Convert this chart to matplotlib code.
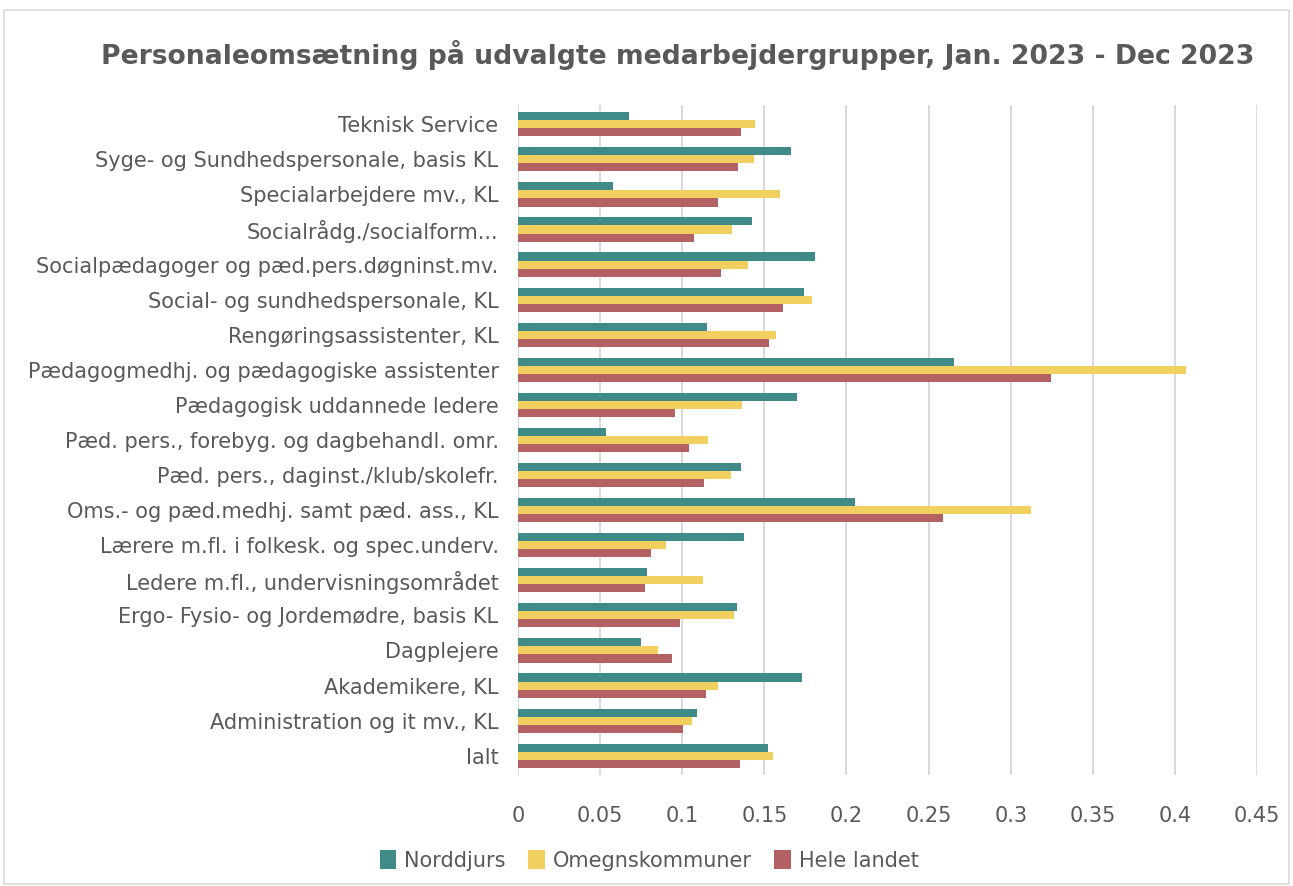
import matplotlib.pyplot as plt
import numpy as np
from matplotlib.patches import Rectangle

# Data (bottom to top as shown)
categories = ['Ialt', 'Administration og it mv., KL', 'Akademikere, KL', 'Dagplejere',
              'Ergo- Fysio- og Jordemødre, basis KL', 'Ledere m.fl., undervisningsområdet',
              'Lærere m.fl. i folkesk. og spec.underv.', 'Oms.- og pæd.medhj. samt pæd. ass., KL',
              'Pæd. pers., daginst./klub/skolefr.', 'Pæd. pers., forebyg. og dagbehandl. omr.',
              'Pædagogisk uddannede ledere', 'Pædagogmedhj. og pædagogiske assistenter',
              'Rengøringsassistenter, KL', 'Social- og sundhedspersonale, KL',
              'Socialpædagoger og pæd.pers.døgninst.mv.', 'Socialrådg./socialform...',
              'Specialarbejdere mv., KL', 'Syge- og Sundhedspersonale, basis KL',
              'Teknisk Service']
norddjurs = [0.152, 0.1087, 0.1728, 0.0752, 0.1331, 0.0783, 0.1374, 0.2049, 0.1355, 0.0536,
             0.1701, 0.2653, 0.1148, 0.1740, 0.1807, 0.1423, 0.0581, 0.1661, 0.0673]
omegn = [0.1551, 0.1057, 0.1215, 0.0850, 0.1313, 0.1124, 0.0904, 0.3121, 0.1298, 0.1159,
         0.1366, 0.4065, 0.1569, 0.1789, 0.1398, 0.1301, 0.1593, 0.1435, 0.1441]
hele = [0.1350, 0.1002, 0.1142, 0.0935, 0.0984, 0.0776, 0.0807, 0.2585, 0.1135, 0.1042,
        0.0958, 0.3244, 0.1526, 0.1612, 0.1234, 0.1069, 0.1215, 0.1337, 0.1356]
series = ['Norddjurs', 'Omegnskommuner', 'Hele landet']
colors = ['#408B87', '#F2D060', '#B36163']

plt.rcParams['font.family'] = ['DejaVu Sans']
txt = '#595959'

fig = plt.figure(figsize=(12.93, 8.86), dpi=100)
fig.patches.append(Rectangle((0.003, 0.002), 0.994, 0.987, transform=fig.transFigure,
                             fill=False, edgecolor='#D9D9D9', linewidth=1.2))
ax = fig.add_axes([0.4006, 0.1253, 0.5716, 0.7562])

y = np.arange(len(categories))
h = 0.23
for vals, off, c, lab in zip([norddjurs, omegn, hele], [h, 0, -h], colors, series):
    ax.barh(y + off, vals, height=h, color=c, label=lab, zorder=3)

ax.set_xlim(0, 0.45)
ax.set_ylim(-0.55, 18.55)
ticks = np.arange(0, 0.451, 0.05)
ax.set_xticks(ticks)
ax.set_xticklabels(['0'] + ['%g' % round(t, 2) for t in ticks[1:]])
ax.set_yticks(y)
ax.set_yticklabels(categories)
ax.grid(axis='x', color='#D9D9D9', linewidth=1.4, zorder=0)
for s in ax.spines.values():
    s.set_visible(False)
ax.tick_params(axis='both', length=0, labelsize=15, colors=txt)
ax.tick_params(axis='x', pad=22)
ax.tick_params(axis='y', pad=14)

fig.text(0.524, 0.938, 'Personaleomsætning på udvalgte medarbejdergrupper, Jan. 2023 - Dec 2023',
         ha='center', va='center', fontsize=19.2, fontweight='bold', color=txt)

fig.legend(loc='center', bbox_to_anchor=(0.502, 0.029), ncol=3, frameon=False,
           fontsize=15, labelcolor=txt, handlelength=0.8, handleheight=1.0,
           handletextpad=0.36, columnspacing=1.1)

fig.savefig('out.png', dpi=100)
